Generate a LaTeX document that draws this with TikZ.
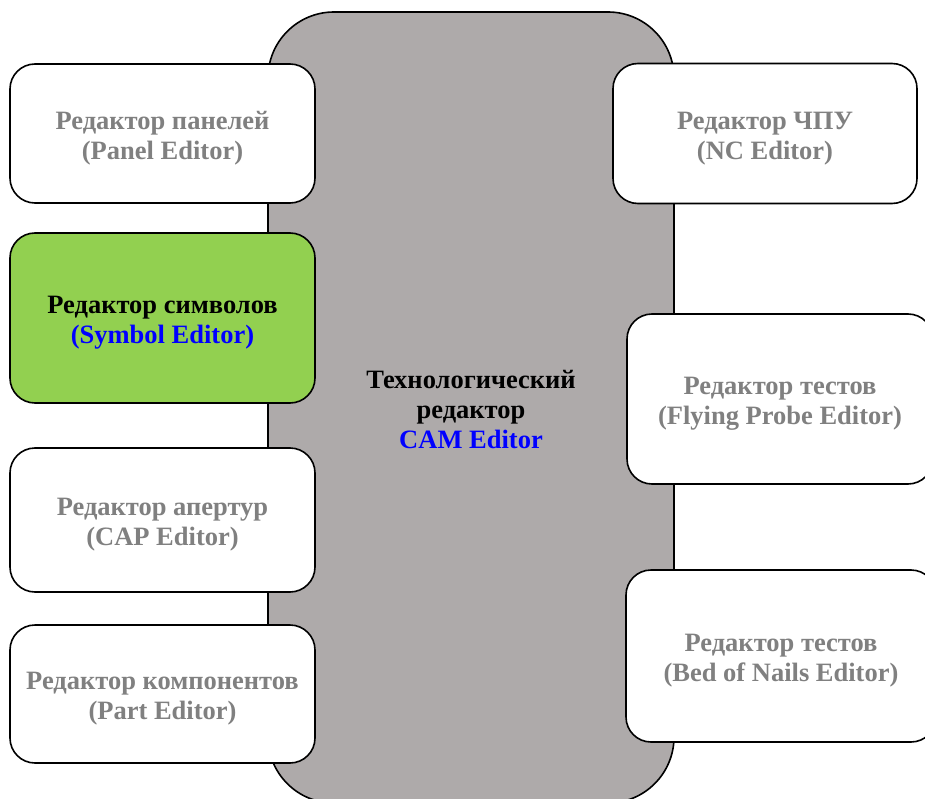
\documentclass[tikz,border=0pt]{standalone}
\usepackage{fontspec}
\setmainfont{Liberation Serif}
\definecolor{hubgray}{HTML}{AEAAAA}
\definecolor{labelgray}{HTML}{808080}
\definecolor{symgreen}{HTML}{92D050}
\definecolor{camblue}{HTML}{0000FF}
\begin{document}
\begin{tikzpicture}[x=1pt,y=-1pt,
  txt/.style={font=\fontsize{26.5}{30}\selectfont\bfseries, align=center, inner sep=0pt},
  hub/.style={draw=black, line width=1.6pt, fill=hubgray, rounded corners=66pt,
    minimum width=406pt, minimum height=791pt, inner sep=0pt},
  editor/.style={draw=black, line width=1.6pt, fill=white, rounded corners=25pt,
    inner sep=0pt},
  leftbox/.style={editor, minimum width=305pt, minimum height=139pt},
  caption/.style={txt, text=labelgray, yshift=-5pt},
]
\useasboundingbox (0,0) rectangle (925,799);
\clip (0,0) rectangle (925,799);

% central CAM editor
\node[hub] (cam) at (471,407.5) {};
\node[txt, yshift=-2.5pt] (cam-text) at (cam.center)
  {Технологический\\редактор\\\textcolor{camblue}{CAM Editor}};

% editors on the left
\node[leftbox] (panel) at (162.5,133.5) {};
\node[caption] (panel-text) at (panel.center) {Редактор панелей\\(Panel Editor)};

\node[leftbox, fill=symgreen, minimum height=170pt] (symbol) at (162.5,318) {};
\node[caption, text=black] (symbol-text) at (symbol.center)
  {Редактор символов\\\textcolor{camblue}{(Symbol Editor)}};

\node[leftbox, minimum height=144pt] (cap) at (162.5,520) {};
\node[caption] (cap-text) at (cap.center) {Редактор апертур\\(CAP Editor)};

\node[leftbox, minimum height=138pt] (part) at (162.5,694) {};
\node[caption] (part-text) at (part.center) {Редактор компонентов\\(Part Editor)};

% editors on the right
\node[editor, minimum width=304pt, minimum height=140pt] (nc) at (765,133.5) {};
\node[caption] (nc-text) at (nc.center) {Редактор ЧПУ\\(NC Editor)};

\node[editor, minimum width=306pt, minimum height=170pt] (probe) at (780,399) {};
\node[caption] (probe-text) at (probe.center) {Редактор тестов\\(Flying Probe Editor)};

\node[editor, minimum width=310pt, minimum height=172pt] (nails) at (781,656) {};
\node[caption] (nails-text) at (nails.center) {Редактор тестов\\(Bed of Nails Editor)};
\end{tikzpicture}
\end{document}
